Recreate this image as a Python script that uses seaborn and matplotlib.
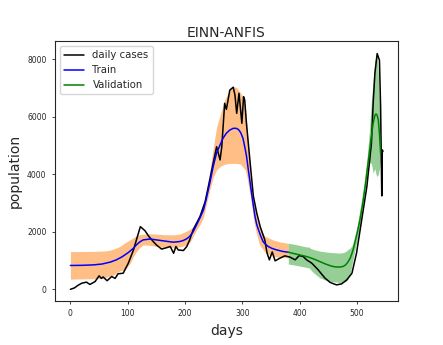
import seaborn as sns
import matplotlib.pyplot as plt
import pandas as pd

sns.set_style("ticks")

# daily cases
case_days = [0, 7, 14, 20, 28, 34, 43, 50, 54, 57, 64, 72, 78, 83, 92, 101, 110, 116, 122, 130,
             137, 145, 150, 159, 168, 174, 180, 184, 188, 197, 203, 208, 214, 220, 226, 235, 243, 249, 255, 261,
             264, 269, 272, 278, 284, 287, 290, 294, 299, 302, 304, 307, 313, 319, 325, 331, 339, 343, 347, 352,
             357, 365, 374, 383, 392, 399, 406, 412, 421, 432, 444, 453, 464, 473, 482, 491, 499, 508, 517, 525,
             528, 531, 535, 539, 541, 543, 544, 545]
cases = [0, 50, 150, 215, 250, 170, 270, 470, 380, 430, 300, 445, 380, 540, 560, 910, 1370, 1780, 2180, 2040,
         1835, 1650, 1545, 1400, 1450, 1490, 1255, 1490, 1370, 1350, 1490, 1720, 2070, 2300, 2530, 3050, 3800, 4400, 4960, 4500,
         4960, 6470, 6260, 6930, 7030, 6750, 6120, 6820, 5775, 6700, 6580, 5775, 4500, 3250, 2650, 2180, 1720, 1260, 1025, 1300,
         990, 1080, 1165, 1120, 1025, 1175, 1140, 1025, 910, 680, 390, 240, 155, 190, 330, 560, 1260, 2415, 3570, 5080,
         6470, 7510, 8200, 7970, 6350, 3250, 4850, 4800]

# train fit
train_days = [0, 20, 40, 55, 70, 80, 90, 101, 110, 115, 121, 127, 139, 157, 179, 190, 197, 203, 208, 214,
              220, 226, 232, 237, 243, 249, 255, 261, 266, 272, 278, 284, 289, 293, 297, 301, 304, 307, 310, 313,
              316, 319, 322, 325, 328, 332, 336, 340, 345, 352, 360, 370, 380]
train_pred = [830, 835, 850, 880, 950, 1025, 1130, 1280, 1430, 1545, 1650, 1720, 1750, 1700, 1640, 1660, 1700, 1760, 1840, 2000,
              2240, 2490, 2760, 3150, 3690, 4270, 4750, 5020, 5250, 5430, 5540, 5600, 5600, 5560, 5450, 5250, 4960, 4650, 4200, 3770,
              3340, 2920, 2530, 2250, 2070, 1850, 1660, 1570, 1490, 1420, 1370, 1320, 1290]

# train band
band_days = [0, 40, 55, 65, 75, 86, 95, 104, 110, 115, 121, 127, 139, 150, 165, 180, 192, 203, 209, 214,
             220, 226, 232, 237, 243, 249, 255, 261, 269, 278, 284, 290, 296, 301, 305, 308, 311, 314, 317, 320,
             325, 330, 339, 353, 366, 380]
band_up = [1313, 1320, 1330, 1345, 1400, 1490, 1620, 1720, 1800, 1860, 1900, 1920, 1930, 1920, 1900, 1895, 1930, 2030, 2100, 2180,
           2400, 2650, 3000, 3450, 4100, 4900, 5650, 6050, 6580, 6950, 7050, 7020, 6850, 6700, 6350, 5700, 4800, 3950, 3400, 3000,
           2530, 2150, 1850, 1720, 1650, 1600]
band_lo = [354, 370, 390, 430, 500, 640, 680, 900, 1150, 1310, 1450, 1545, 1530, 1490, 1460, 1460, 1480, 1545, 1650, 1850,
           2070, 2250, 2500, 2950, 3450, 3900, 4150, 4270, 4350, 4380, 4380, 4380, 4360, 4250, 4150, 3900, 3550, 3200, 2800, 2350,
           1900, 1545, 1300, 1150, 1110, 1100]

# validation
val_days = [380, 395, 410, 417, 418, 425, 435, 445, 455, 462, 470, 476, 480, 484, 488, 491, 494, 497, 500, 505,
            510, 514, 518, 522, 525, 528, 531, 533, 535, 537, 539, 541]
val_pred = [1290, 1220, 1150, 1110, 1100, 1050, 965, 880, 810, 780, 775, 800, 850, 950, 1085, 1250, 1450, 1700, 1950, 2415,
            3000, 3570, 4200, 4850, 5350, 5775, 6050, 6100, 6050, 5890, 5400, 4730]
val_up = [1605, 1550, 1480, 1465, 1430, 1380, 1330, 1300, 1280, 1270, 1260, 1280, 1315, 1380, 1440, 1520, 1700, 1950, 2200, 2800,
          3400, 4000, 4700, 5650, 6580, 7250, 7970, 8100, 8150, 7500, 6350, 4750]
val_lo = [880, 830, 770, 740, 700, 560, 400, 320, 270, 255, 240, 250, 270, 350, 550, 850, 1150, 1450, 1700, 2250,
          2900, 3500, 4000, 4400, 4380, 4040, 4200, 4000, 3920, 4000, 4200, 4500]

df_cases = pd.DataFrame({"days": case_days, "population": cases})
df_train = pd.DataFrame({"days": train_days, "population": train_pred})
df_val = pd.DataFrame({"days": val_days, "population": val_pred})

fig, ax = plt.subplots(figsize=(4.43, 3.45), dpi=100)
fig.subplots_adjust(left=0.124, right=0.898, top=0.881, bottom=0.128)

ax.fill_between(band_days, band_lo, band_up, color="C1", alpha=0.5, linewidth=0)
ax.fill_between(val_days, val_lo, val_up, color="C2", alpha=0.5, linewidth=0)

sns.lineplot(df_cases, x="days", y="population", color="black", linewidth=1.1, label="daily cases", ax=ax)
sns.lineplot(df_train, x="days", y="population", color="blue", linewidth=1.1, label="Train", ax=ax)
sns.lineplot(df_val, x="days", y="population", color="green", linewidth=1.1, label="Validation", ax=ax)

ax.set_xlim(-27, 571)
ax.set_ylim(-400, 8635)
ax.set_xticks([0, 100, 200, 300, 400, 500])
ax.set_yticks([0, 2000, 4000, 6000, 8000])
ax.tick_params(labelsize=5.5, length=2.5, width=0.6)
for s in ax.spines.values():
    s.set_linewidth(0.8)

ax.set_title("EINN-ANFIS", fontsize=10, pad=3)
ax.set_xlabel("days", fontsize=10)
ax.set_ylabel("population", fontsize=10)
ax.legend(loc="upper left", fontsize=7.3)

plt.savefig("out.png")
